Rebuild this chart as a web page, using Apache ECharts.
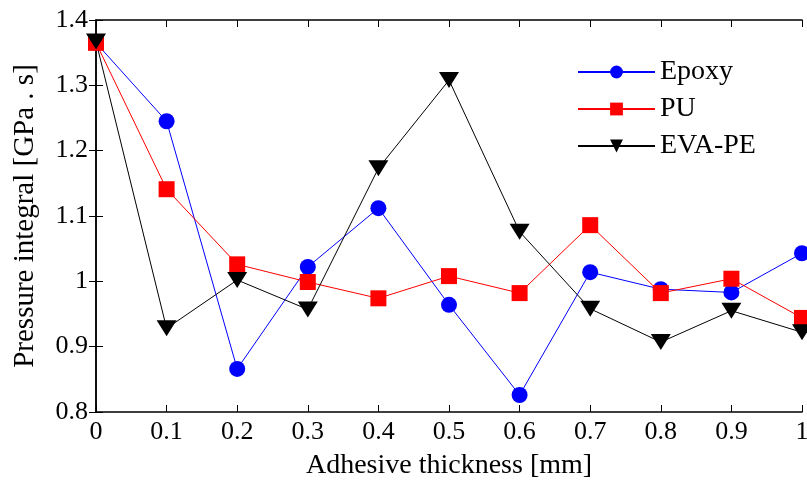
<!DOCTYPE html>
<html>
<head>
<meta charset="utf-8">
<script src="https://cdn.jsdelivr.net/npm/echarts@6/dist/echarts.min.js"></script>
<style>
  html, body { margin: 0; padding: 0; background: #fff; }
  #chart { width: 807px; height: 483px; }
</style>
</head>
<body>
<div id="chart"></div>
<script>
  // adhesive thickness [mm]
  const thickness = [0, 0.1, 0.2, 0.3, 0.4, 0.5, 0.6, 0.7, 0.8, 0.9, 1.0];

  // pressure integral [GPa . s]
  const epoxy = [1.365, 1.245, 0.866, 1.022, 1.112, 0.964, 0.826, 1.014, 0.988, 0.983, 1.043];
  const pu    = [1.365, 1.141, 1.026, 0.999, 0.974, 1.008, 0.982, 1.086, 0.982, 1.004, 0.944];
  const evape = [1.367, 0.928, 1.002, 0.957, 1.173, 1.308, 1.076, 0.958, 0.907, 0.955, 0.922];

  const font = '"Liberation Serif", "DejaVu Serif", serif';
  const fmt = v => String(+v.toFixed(1));

  const pairs = ys => thickness.map((x, i) => [x, ys[i]]);

  const chart = echarts.init(document.getElementById('chart'));

  const mkSeries = (name, ys, color, symbol, size, rotate) => ({
    name: name,
    type: 'line',
    data: pairs(ys),
    symbol: symbol,
    symbolSize: size,
    symbolRotate: rotate || 0,
    lineStyle: { color: color, width: 1 },
    itemStyle: { color: color },
    emphasis: { disabled: true },
    z: 3
  });

  const frameAxis = {
    show: true,
    lineStyle: { color: '#000', width: 1.5 }
  };
  const ticks = { inside: true, length: 7, lineStyle: { color: '#000' } };

  chart.setOption({
    animation: false,
    backgroundColor: '#fff',
    grid: { left: 96, right: 5, top: 20, bottom: 71, containLabel: false, outerBoundsMode: 'none' },
    legend: {
      left: 572,
      top: 53,
      orient: 'vertical',
      itemWidth: 77,
      itemHeight: 16,
      itemGap: 9,
      textStyle: { fontFamily: font, fontSize: 28, color: '#000', lineHeight: 28 },
      data: ['Epoxy', 'PU', 'EVA-PE']
    },
    xAxis: [{
      type: 'value',
      min: 0, max: 1, interval: 0.1,
      name: 'Adhesive thickness [mm]',
      nameLocation: 'middle',
      nameGap: 40,
      nameTextStyle: { fontFamily: font, fontSize: 28, color: '#000' },
      axisLine: frameAxis,
      axisTick: ticks,
      axisLabel: { formatter: fmt, margin: 7, fontFamily: font, fontSize: 26, color: '#000' },
      splitLine: { show: false }
    }, {
      type: 'value',
      position: 'top',
      min: 0, max: 1, interval: 0.1,
      axisLine: frameAxis,
      axisTick: ticks,
      axisLabel: { show: false },
      splitLine: { show: false }
    }],
    yAxis: [{
      type: 'value',
      min: 0.8, max: 1.4, interval: 0.1,
      name: 'Pressure integral [GPa . s]',
      nameLocation: 'middle',
      nameGap: 56,
      nameTextStyle: { fontFamily: font, fontSize: 29, color: '#000' },
      axisLine: frameAxis,
      axisTick: ticks,
      axisLabel: { formatter: fmt, margin: 8, fontFamily: font, fontSize: 26, color: '#000' },
      splitLine: { show: false }
    }, {
      type: 'value',
      position: 'right',
      min: 0.8, max: 1.4, interval: 0.1,
      axisLine: frameAxis,
      axisTick: ticks,
      axisLabel: { show: false },
      splitLine: { show: false }
    }],
    series: [
      mkSeries('Epoxy', epoxy, '#0000ff', 'circle', 16),
      mkSeries('PU', pu, '#ff0000', 'rect', 16),
      // triangles point down in the reference
      mkSeries('EVA-PE', evape, '#000000', 'triangle', [20, 16], 180)
    ]
  });
</script>
</body>
</html>
